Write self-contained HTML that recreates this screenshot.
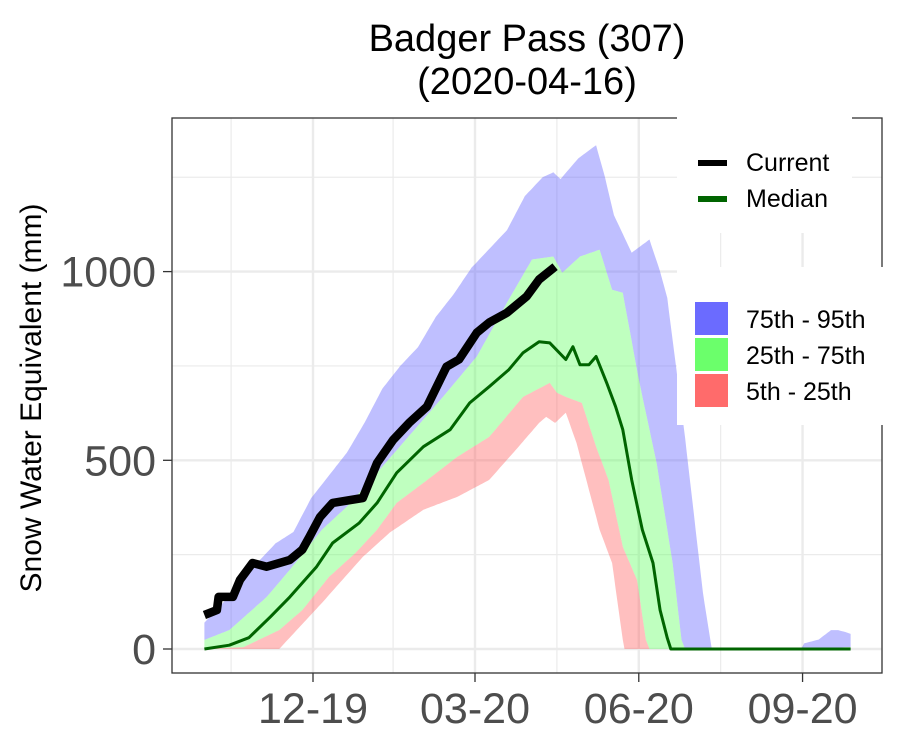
<!DOCTYPE html>
<html><head><meta charset="utf-8"><style>
body{margin:0;background:#fff;}
svg{display:block;font-family:"Liberation Sans",Arial,sans-serif;}
</style></head><body>
<svg id="chart" width="900" height="750" viewBox="0 0 900 750" xmlns="http://www.w3.org/2000/svg">
<rect width="900" height="750" fill="#fff"/>
<text x="527" y="51" text-anchor="middle" font-size="38">Badger Pass (307)</text>
<text x="527" y="94" text-anchor="middle" font-size="38">(2020-04-16)</text>
<text transform="translate(41,398) rotate(-90)" text-anchor="middle" font-size="30">Snow Water Equivalent (mm)</text>
<g id="grid"></g>
<g id="bands"></g>
<g id="lines"></g>
<g id="axes"></g>
<g>
<rect x="677" y="110" width="175" height="123" fill="#fff"/>
<line x1="698" y1="163" x2="727" y2="163" stroke="#000" stroke-width="6"/>
<text x="746" y="171" font-size="25">Current</text>
<line x1="698" y1="199" x2="727" y2="199" stroke="#006400" stroke-width="6"/>
<text x="746" y="207" font-size="25">Median</text>
</g>
<g>
<rect x="677" y="267" width="215" height="158" fill="#fff"/>
<rect x="695" y="302" width="33" height="33" fill="#6b6bff"/>
<text x="746" y="328" font-size="25">75th - 95th</text>
<rect x="695" y="338" width="33" height="33" fill="#6bff6b"/>
<text x="746" y="364" font-size="25">25th - 75th</text>
<rect x="695" y="374" width="33" height="33" fill="#ff6b6b"/>
<text x="746" y="400" font-size="25">5th - 25th</text>
</g>
</svg>
<script>
// day index from 2019-10-01
const p95Days=[0,10,20,30,40,50,60,70,80,90,100,110,120,130,140,150,160,170,180,190,196,200,210,220,225,230,240,250,256,260,270,280,285,335,337,345,352,356,360,363];
const p95Vals=[70,120,170,230,280,310,400,460,520,600,690,750,800,880,940,1010,1060,1110,1200,1250,1263,1245,1300,1335,1250,1150,1050,1085,1000,930,560,150,0,0,15,25,50,50,45,40];
const p75Days=[0,14,35,48,66,80,97,113,134,153,170,184,196,201,211,222,229,235,244,254,263,268,270,337,363];
const p75Vals=[24,50,138,210,316,377,467,554,668,775,918,1032,1040,997,1040,1058,952,944,714,493,228,24,0,0,5];
const p50Days=[0,14,25,37,48,63,72,87,97,108,123,138,149,160,171,179,188,194,203,207,211,216,220,226,231,235,240,246,252,256,260,262,363];
const p50Vals=[0,10,30,85,138,218,281,334,387,467,536,581,652,695,740,785,814,811,767,801,753,753,775,705,642,581,448,316,228,103,29,0,0];
const p25Days=[0,22,42,55,70,85,97,108,123,142,160,179,194,198,203,212,220,227,235,243,248,250,363];
const p25Vals=[0,5,50,103,191,255,316,387,440,509,562,668,705,679,668,652,536,448,271,183,24,0,0];
const p5Days=[0,42,66,89,104,123,142,160,175,188,192,197,203,209,216,222,229,235,236,363];
const p5Vals=[0,0,122,244,308,369,403,448,528,599,615,599,626,546,422,316,228,24,0,0];
const curDays=[0,7,8,16,20,27,35,48,55,59,65,72,89,97,106,115,125,136,143,153,160,170,181,188,197];
const curVals=[90,103,138,138,183,228,218,236,263,297,350,387,400,493,554,599,642,748,767,838,865,891,934,979,1013];
const yTicks=[0,500,1000];
const yMinor=[250,750,1250];
const xTickLabels=["12-19","03-20","06-20","09-20"];
const xTickDays=[61,152,244,336];
const xMinorDays=[15,106,198,290];

const NS="http://www.w3.org/2000/svg";
const L=172,R=882,T=118,B=673;
function xs(d){return 313+(d-61)*(162/91);}
function ys(v){return 649-v*0.3774;}
function mk(tag,attrs,parent){const e=document.createElementNS(NS,tag);for(const k in attrs)e.setAttribute(k,attrs[k]);parent.appendChild(e);return e;}
function interp(days,vals,d){
  if(d<=days[0])return vals[0];
  for(let i=1;i<days.length;i++){if(d<=days[i]){const t=(d-days[i-1])/(days[i]-days[i-1]);return vals[i-1]+t*(vals[i]-vals[i-1]);}}
  return vals[vals.length-1];
}
const grid=document.getElementById('grid');
for(const v of yMinor){const e=mk('line',{x1:L,x2:R,y1:ys(v),y2:ys(v),stroke:'#ebebeb','stroke-width':1.2},grid);

}
for(const d of xMinorDays){const e=mk('line',{x1:xs(d),x2:xs(d),y1:T,y2:B,stroke:'#ebebeb','stroke-width':1.2},grid);

}
for(const v of yTicks){const e=mk('line',{x1:L,x2:R,y1:ys(v),y2:ys(v),stroke:'#ebebeb','stroke-width':2.4},grid);

}
for(const d of xTickDays){const e=mk('line',{x1:xs(d),x2:xs(d),y1:T,y2:B,stroke:'#ebebeb','stroke-width':2.4},grid);

}

const bands=document.getElementById('bands');
function band(upD,upV,loD,loV,color,name){
  const pts=[];
  for(let d=0;d<=363;d++)pts.push(xs(d).toFixed(1)+','+ys(interp(upD,upV,d)).toFixed(1));
  for(let d=363;d>=0;d--)pts.push(xs(d).toFixed(1)+','+ys(interp(loD,loV,d)).toFixed(1));
  const e=mk('polygon',{points:pts.join(' '),fill:color,'fill-opacity':0.42},bands);
  
  
}
band(p95Days,p95Vals,p75Days,p75Vals,'#6666ff','band-75-95');
band(p75Days,p75Vals,p25Days,p25Vals,'#66ff66','band-25-75');
band(p25Days,p25Vals,p5Days,p5Vals,'#ff6666','band-5-25');

const lines=document.getElementById('lines');
function path(days,vals,color,w,name){
  const p=days.map((d,i)=>(i?'L':'M')+xs(d).toFixed(1)+','+ys(vals[i]).toFixed(1)).join(' ');
  const e=mk('path',{d:p,fill:'none',stroke:color,'stroke-width':w,'stroke-linejoin':'round'},lines);
  
  
}
path(p50Days,p50Vals,'#006400',3,'median-line');
path(curDays,curVals,'#000',8.5,'current-line');

const axes=document.getElementById('axes');
const fr=mk('rect',{x:L,y:T,width:R-L,height:B-T,fill:'none',stroke:'#333','stroke-width':1.3},axes);


yTicks.forEach(v=>{
  const t=mk('line',{x1:L-9,x2:L,y1:ys(v),y2:ys(v),stroke:'#333','stroke-width':1.3},axes);
  
  
  const tx=mk('text',{x:L-16,y:ys(v)+15,'text-anchor':'end','font-size':43,fill:'#4d4d4d'},axes);
  tx.textContent=v;
  
  
});
xTickDays.forEach((d,i)=>{
  const t=mk('line',{x1:xs(d),x2:xs(d),y1:B,y2:B+9,stroke:'#333','stroke-width':1.3},axes);
  
  
  const tx=mk('text',{x:xs(d),y:B+50,'text-anchor':'middle','font-size':43,fill:'#4d4d4d'},axes);
  tx.textContent=xTickLabels[i];
  
  
});
</script>
</body></html>
